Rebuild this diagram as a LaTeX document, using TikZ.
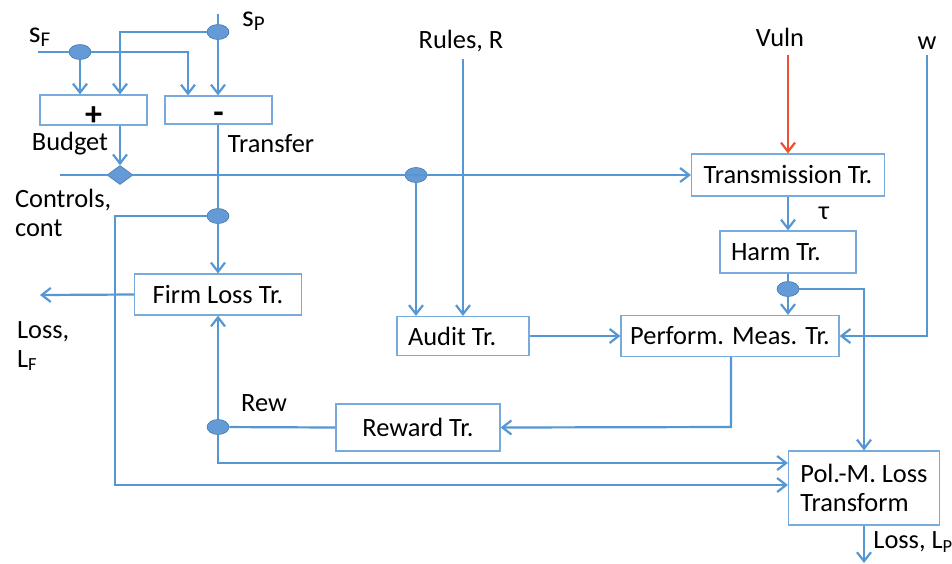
\documentclass[tikz,border=0pt]{standalone}
\usepackage{fontspec}
\setmainfont{Carlito}
\usetikzlibrary{arrows.meta,shapes.geometric}
\definecolor{flow}{RGB}{86,151,211}
\definecolor{boxline}{RGB}{120,170,220}
\definecolor{vulnred}{RGB}{236,80,46}
\definecolor{dotfill}{RGB}{100,155,215}

\begin{document}
\begin{tikzpicture}[x=0.5pt,y=-0.5pt,
    font=\fontsize{13.2}{14.5}\selectfont,
    line/.style={flow,line width=1.1pt},
    arr/.style={line,-{Straight Barb[length=4.5pt,width=7pt]}},
    redarr/.style={arr,vulnred},
    tbox/.style={draw=boxline,line width=0.6pt,fill=white,inner sep=0pt},
    junc/.style={ellipse,fill=dotfill,draw=flow!80!black,line width=0.3pt,
      minimum width=11pt,minimum height=7.5pt,inner sep=0pt},
    mixer/.style={diamond,fill=dotfill,draw=flow!80!black,line width=0.3pt,
      minimum width=13pt,minimum height=9.5pt,aspect=1.4,inner sep=0pt},
    sign/.style={font=\fontsize{17}{17}\selectfont\bfseries}]
  \useasboundingbox (0,0) rectangle (952,563);

  % boxes
  \node[tbox,minimum width=53.5pt,minimum height=14pt,sign,text height=15pt,text depth=-1pt] (plus) at (93.5,110) {+};
  \node[tbox,minimum width=53.5pt,minimum height=14pt,sign,text height=13.5pt,text depth=0.5pt] (minus) at (218.5,110) {-};
  \node[tbox,minimum width=96.5pt,minimum height=21pt] (trans) at (788,175) {Transmission Tr.};
  \node[tbox,minimum width=68pt,minimum height=21pt,align=flush left,text width=57pt] (harm) at (788,252) {Harm Tr.};
  \node[tbox,minimum width=66pt,minimum height=19.5pt,align=flush left,text width=55pt] (audit) at (463,336) {Audit Tr.};
  \node[tbox,minimum width=83.5pt,minimum height=20.5pt] (firm) at (218,294.5) {Firm Loss Tr.};
  \node[tbox,minimum width=109pt,minimum height=20.5pt] (perf) at (730,336) {Perform. Meas. Tr.};
  \node[tbox,minimum width=82pt,minimum height=23.5pt] (reward) at (418,427.5) {Reward Tr.};
  \node[tbox,minimum width=75.5pt,minimum height=37pt,align=flush left] (pol) at (864,488) {Pol.-M. Loss\\Transform};

  % junctions
  \node[junc] (sfdot) at (80,52) {};
  \node[junc] (spdot) at (218,32) {};
  \node[mixer] (diam) at (120,175) {};
  \node[junc] (cdot) at (416,175) {};
  \node[junc] (tdot) at (218,216) {};
  \node[junc] (hdot) at (788,289) {};
  \node[junc] (rdot) at (218,427) {};

  % free ends and bends
  \coordinate (sfin) at (38,52);
  \coordinate (sfr) at (188,52);
  \coordinate (spin) at (218,14);
  \coordinate (spl) at (120,32);
  \coordinate (ctin) at (60,175);
  \coordinate (rin) at (463,59);
  \coordinate (vin) at (788,55);
  \coordinate (win) at (927,55);
  \coordinate (tl) at (115,485);
  \coordinate (hr) at (864,289);
  \coordinate (pb) at (731,427);
  \coordinate (rb) at (218,463);
  \coordinate (lf) at (40,295);
  \coordinate (lp) at (864,563);

  % inputs
  \draw[line] (sfin) -- (sfdot);
  \draw[arr] (sfdot) -- (sfdot |- plus.north);
  \draw[arr] (sfdot) -- (sfr) -- (sfr |- minus.north);
  \draw[line] (spin) -- (spdot);
  \draw[arr] (spdot) -- (minus.north -| spdot);
  \draw[arr] (spdot) -- (spl) -- (spl |- plus.north);
  \draw[arr] (spl |- plus.south) -- (diam.north);
  \draw[line] (ctin) -- (diam);
  \draw[arr] (diam) -- (trans.west);
  \draw[arr] (cdot) -- (cdot |- audit.north);
  \draw[arr] (rin) -- (audit.north);
  \draw[redarr] (vin) -- (trans.north);
  \draw[arr] (win) |- (perf.east);

  % firm side
  \draw[line] (minus.south -| tdot) -- (tdot);
  \draw[arr] (tdot) -- (firm.north -| tdot);
  \draw[arr] (tdot) -| (tl) -- (tl -| pol.west);
  \draw[arr] (firm.west) -- (lf);

  % harm side
  \draw[arr] (trans.south) -- (harm.north);
  \draw[line] (harm.south) -- (hdot);
  \draw[arr] (hdot) -- (hdot |- perf.north);
  \draw[arr] (hdot) -- (hr) -- (pol.north);
  \draw[arr] (audit.east) -- (audit.east -| perf.west);
  \draw[arr] (pb |- perf.south) -- (pb) -- (reward.east);
  \draw[line] (reward.west) -- (rdot);
  \draw[arr] (rdot) -- (firm.south -| rdot);
  \draw[arr] (rdot) -- (rb) -- (rb -| pol.west);
  \draw[arr] (pol.south) -- (lp);

  % labels
  \node[font=\fontsize{15}{15}\selectfont] (lsf) at (40,37) {s\textsubscript{F}};
  \node[font=\fontsize{15}{15}\selectfont] (lsp) at (254,21) {s\textsubscript{P}};
  \node (lbud) at (70,144) {Budget};
  \node (ltra) at (271,144) {Transfer};
  \node[anchor=west,align=flush left] (lctl) at (8,213) {Controls,\\cont};
  \node (lrul) at (461,41) {Rules, R};
  \node (lvul) at (780,37) {Vuln};
  \node (lw) at (927,43) {w};
  \node (ltau) at (824,213) {τ};
  \node[anchor=west,align=flush left] (llf) at (10,346) {Loss,\\L\textsubscript{F}};
  \node (lrew) at (264,403) {Rew};
  \node[anchor=west,inner sep=0pt] (llp) at (873,542) {Loss, L\textsubscript{P}};
\end{tikzpicture}
\end{document}
